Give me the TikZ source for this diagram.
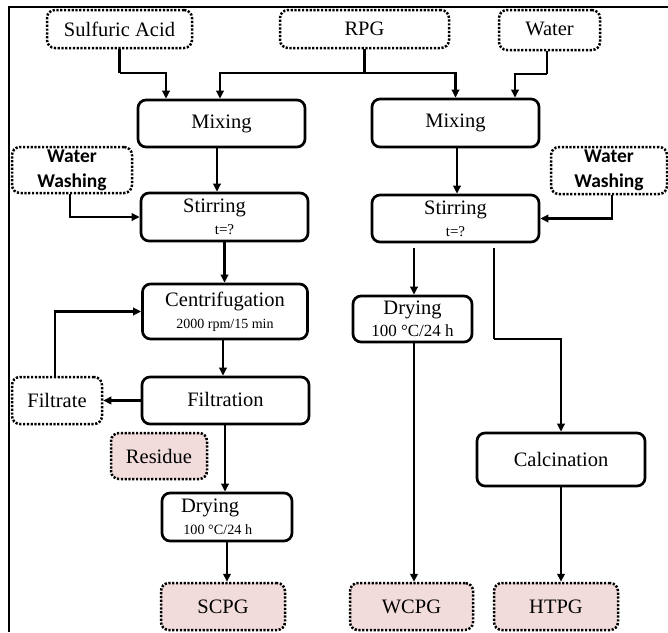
\documentclass[tikz,border=0pt]{standalone}
\usepackage{fontspec}
\setmainfont{Liberation Serif}
\newfontfamily\calfont{Carlito}
\usetikzlibrary{arrows.meta}
\definecolor{pinkfill}{HTML}{F2DCDB}
\begin{document}
\begin{tikzpicture}[x=1pt,y=-1pt,
  mainfont/.style={font=\fontsize{20.5}{22}\selectfont},
  proc/.style={draw, line width=2.7pt, rounded corners=8pt, align=center, inner sep=1pt, mainfont},
  dotbox/.style={draw, line width=2.5pt, dash pattern=on 2.2pt off 1.6pt, rounded corners=8pt, align=center, inner sep=1pt, mainfont},
  prodbox/.style={dotbox, fill=pinkfill},
  washbox/.style={dotbox, inner sep=0pt, font=\calfont\bfseries\fontsize{19.5}{25}\selectfont},
  conn/.style={line width=2.3pt},
  arr/.style={conn, -{Triangle[length=8pt,width=7.5pt]}}
]
\useasboundingbox (0,0) rectangle (668,632);
% frame
\draw[line width=1.4pt] (668,7) -- (9,7) -- (9,632);

% inputs
\node[dotbox, minimum width=145pt, minimum height=38pt] (sulf) at (119.5,29) {Sulfuric Acid};
\node[dotbox, minimum width=169pt, minimum height=38pt] (rpg) at (364.5,29) {RPG};
\node[dotbox, minimum width=101pt, minimum height=40pt] (water) at (549.5,30) {\raisebox{3pt}{Water}};

% mixing
\node[proc, minimum width=167pt, minimum height=47pt] (mixL) at (221.5,123.5) {Mixing};
\node[proc, minimum width=167pt, minimum height=48pt] (mixR) at (455.5,123) {Mixing};

% water washing
\node[washbox, minimum width=120pt, minimum height=46pt] (washL) at (72,170) {Water\\Washing};
\node[washbox, minimum width=116pt, minimum height=47pt] (washR) at (609,170.5) {Water\\Washing};

% stirring
\node[proc, minimum width=167pt, minimum height=48pt] (stirL) at (224.5,217) {Stirring\hspace*{20pt}\\{\fontsize{15}{16}\selectfont t=?}};
\node[proc, minimum width=167pt, minimum height=47pt] (stirR) at (455.5,218.5) {Stirring\\{\fontsize{15}{16}\selectfont t=?}};

% left branch
\node[proc, minimum width=165pt, minimum height=55pt] (cent) at (225,311.5) {Centrifugation\\{\fontsize{14}{16}\selectfont 2000 rpm/15 min}};
\node[proc, minimum width=167pt, minimum height=47pt] (filt) at (225.5,400.5) {\raisebox{3pt}{Filtration}};
\node[dotbox, minimum width=90pt, minimum height=47pt] (filtrate) at (57,400.5) {Filtrate};
\node[prodbox, minimum width=96pt, minimum height=46pt] (residue) at (159,456) {Residue};
\node[proc, minimum width=130pt, minimum height=48pt, align=left] (dryL) at (227,517) {\makebox[92pt][l]{Drying}\\\makebox[92pt][l]{\fontsize{14.2}{16}\selectfont\,100 °C/24 h}};
\node[prodbox, minimum width=124pt, minimum height=47pt] (scpg) at (223,606.5) {SCPG};

% middle branch
\node[proc, minimum width=119pt, minimum height=46pt] (dryM) at (412.5,319) {Drying\\{\fontsize{17}{18}\selectfont 100 °C/24 h}};
\node[prodbox, minimum width=123pt, minimum height=47pt] (wcpg) at (411.5,606.5) {WCPG};

% right branch
\node[proc, minimum width=168pt, minimum height=53pt] (calc) at (561,459.5) {Calcination};
\node[prodbox, minimum width=124pt, minimum height=47pt] (htpg) at (556,606.5) {HTPG};

% connectors: inputs
\coordinate (sj) at (119.5,73);
\draw[conn] (sulf.south) -- (sj);
\draw[arr] (sj) -| ([xshift=-55.5pt]mixL.north);
\coordinate (rj) at (364.5,73);
\draw[conn] (rpg.south) -- (rj);
\draw[arr] (rj) -| ([xshift=-1.5pt]mixL.north);
\draw[arr] (rj) -| (mixR.north);
\coordinate (wj) at (547,74);
\draw[conn] ([xshift=-2.5pt]water.south) -- (wj);
\draw[arr] (wj) -| ([xshift=59.5pt]mixR.north);

% left chain
\draw[arr] ([xshift=-4.5pt]mixL.south) -- ([xshift=-4.5pt]mixL.south |- stirL.north);
\draw[arr] ([xshift=-2pt]washL.south) |- (stirL.west);
\draw[arr] (stirL.south) -- (stirL.south |- cent.north);
\draw[arr] ([xshift=-2pt]cent.south) -- ([xshift=-2pt]cent.south |- filt.north);
\draw[arr] (filt.west) -- (filtrate.east);
\draw[arr] ([xshift=-2pt]filtrate.north) |- (cent.west);
\draw[arr] ([xshift=-0.5pt]filt.south) -- ([xshift=-0.5pt]filt.south |- dryL.north);
\draw[arr] (dryL.south) -- (dryL.south |- scpg.north);

% right chain
\draw[arr] ([xshift=1.5pt]mixR.south) -- ([xshift=1.5pt]mixR.south |- stirR.north);
\draw[arr] ([xshift=3pt]washR.south) |- (stirR.east);
\coordinate (sr1) at ([xshift=-41.5pt,yshift=-5pt]stirR.south);
\draw[arr] (sr1) -- (sr1 |- dryM.north);
\draw[arr] ([xshift=1.5pt]dryM.south) -- ([xshift=1.5pt]dryM.south |- wcpg.north);
\coordinate (sr2) at ([xshift=38.5pt,yshift=-5pt]stirR.south);
\coordinate (sr3) at (494,339);
\draw[conn] (sr2) -- (sr3);
\draw[arr] (sr3) -| (calc.north);
\draw[arr] (calc.south) -- (calc.south |- htpg.north);
\end{tikzpicture}
\end{document}
